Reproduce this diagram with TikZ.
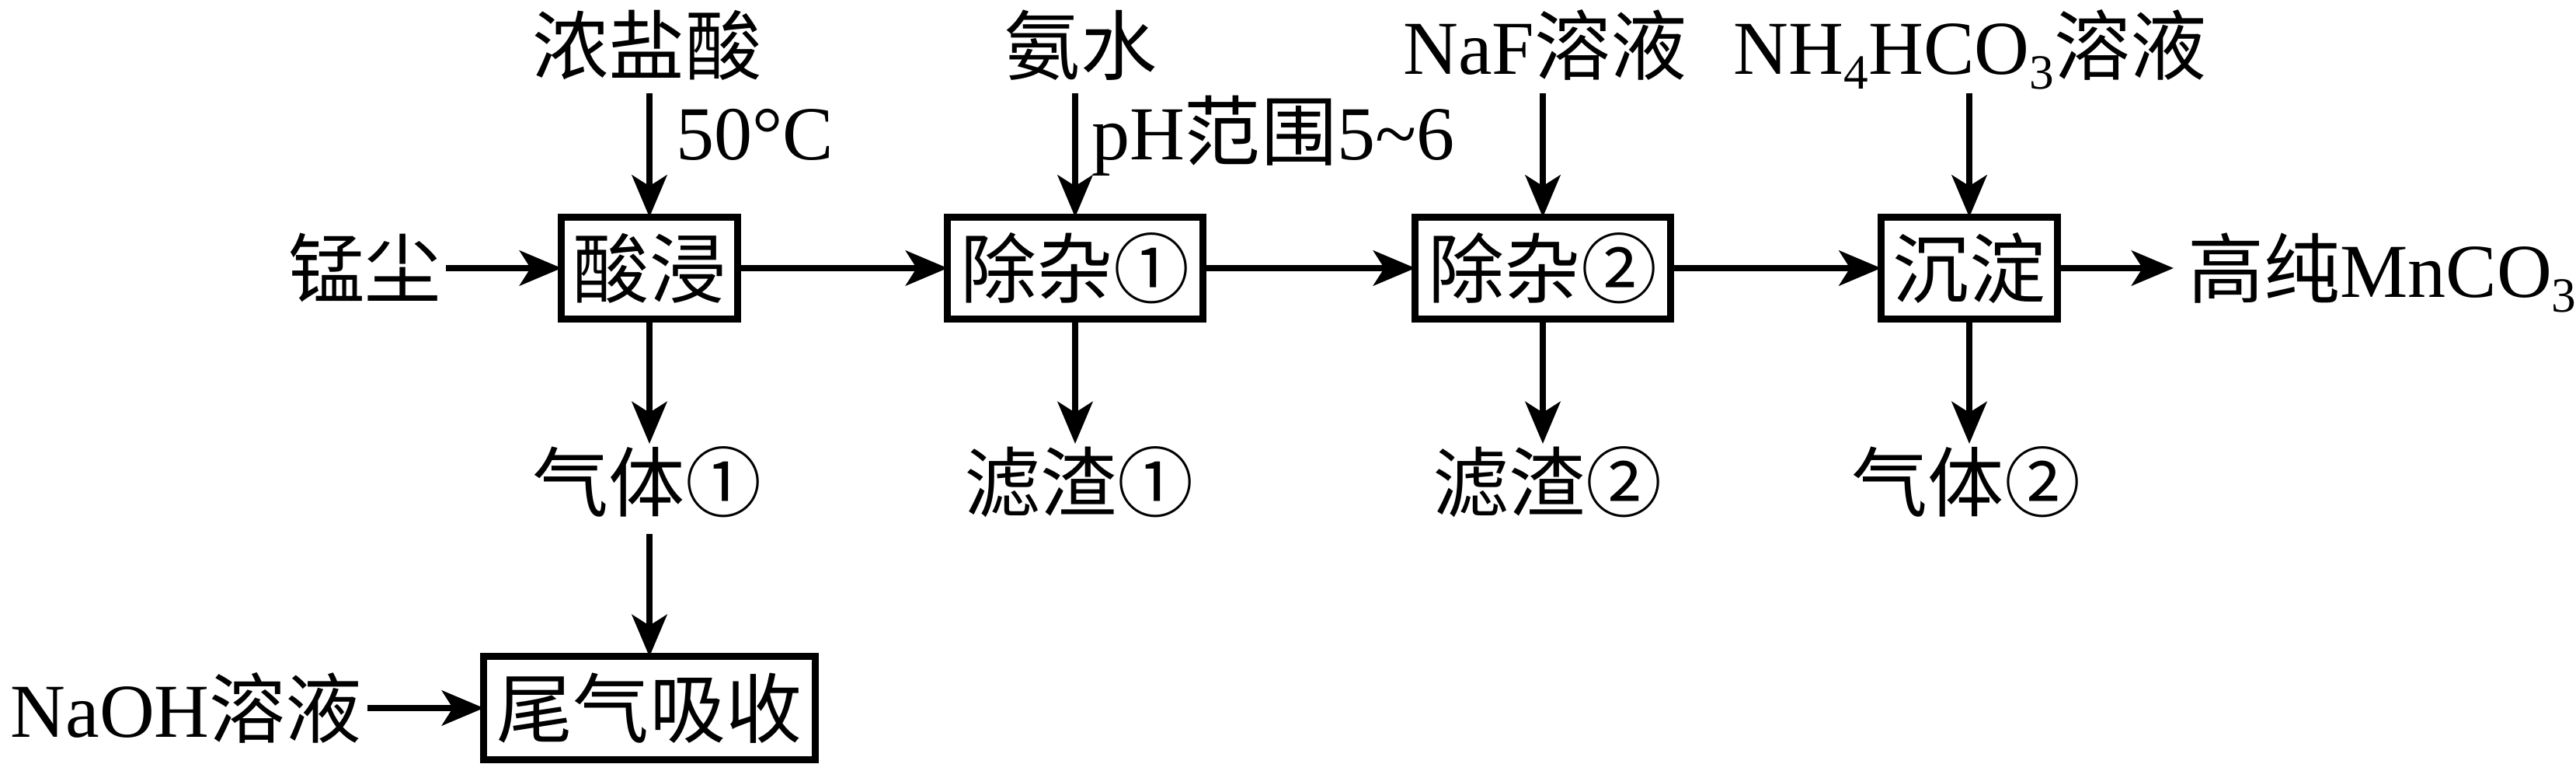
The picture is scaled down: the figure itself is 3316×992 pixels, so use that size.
\documentclass[tikz,border=0pt]{standalone}
\usepackage{fontspec}
\setmainfont{Liberation Serif}
\newfontfamily\cjk{Noto Sans CJK SC}
\usetikzlibrary{arrows.meta}
\newcommand{\sbs}[1]{\raisebox{-0.2em}{\fontsize{18pt}{20pt}\selectfont #1}}
\begin{document}
\begin{tikzpicture}[x=0.01cm,y=-0.01cm,
  every node/.style={inner sep=0pt, outer sep=0pt,
    font=\fontsize{27.9pt}{33pt}\selectfont,
    text height=0.862cm, text depth=0.118cm},
  proc/.style={draw, line width=0.09cm, minimum height=1.31cm},
  flow/.style={line width=0.08cm, -{Stealth[length=0.54cm,width=0.45cm,inset=0.14cm]}}]
\useasboundingbox (0,0) rectangle (3316,992);

% process boxes
\node[proc, minimum width=2.26cm] (A) at (836,345) {\cjk 酸浸};
\node[proc, minimum width=3.28cm] (B) at (1384,345) {\cjk 除杂①};
\node[proc, minimum width=3.28cm] (C) at (1986,345) {\cjk 除杂②};
\node[proc, minimum width=2.27cm] (D) at (2535,345) {\cjk 沉淀};
\node[proc, minimum width=4.26cm, minimum height=1.32cm] (E) at (836,911) {\cjk 尾气吸收};

% labels
\node (hcl) at (833,58) {\cjk 浓盐酸};
\node[anchor=west] (t50) at (870,168) {50°C};
\node (nh3) at (1391,58) {\cjk 氨水};
\node[anchor=west] (ph) at (1405,168) {pH{\cjk 范围}5\textasciitilde6};
\node (naf) at (1989,58) {NaF{\cjk 溶液}};
\node (nh4) at (2536,58) {NH\sbs{4}HCO\sbs{3}{\cjk 溶液}};
\node[anchor=east] (mn) at (568,345) {\cjk 锰尘};
\node[anchor=west] (prod) at (2816,345) {{\cjk 高纯}MnCO\sbs{3}};
\node (g1) at (833,620) {\cjk 气体①};
\node (r1) at (1389,620) {\cjk 滤渣①};
\node (r2) at (1992,620) {\cjk 滤渣②};
\node (g2) at (2531,620) {\cjk 气体②};
\node[anchor=east] (naoh) at (466,911) {NaOH{\cjk 溶液}};

% main flow
\draw[flow, shorten <=0.06cm] (mn.east) -- (A.west);
\draw[flow] (A.east) -- (B.west);
\draw[flow] (B.east) -- (C.west);
\draw[flow] (C.east) -- (D.west);
\draw[flow, shorten >=0.18cm] (D.east) -- (prod.west);

% reagents in
\draw[flow, shorten <=0.13cm] (A.north |- hcl.south) -- (A.north);
\draw[flow, shorten <=0.13cm] (B.north |- nh3.south) -- (B.north);
\draw[flow, shorten <=0.13cm] (C.north |- naf.south) -- (C.north);
\draw[flow, shorten <=0.13cm] (D.north |- nh4.south) -- (D.north);

% products out
\draw[flow] (A.south) -- (A.south |- g1.north);
\draw[flow] (B.south) -- (B.south |- r1.north);
\draw[flow] (C.south) -- (C.south |- r2.north);
\draw[flow] (D.south) -- (D.south |- g2.north);

% tail gas
\draw[flow, shorten <=0.18cm] (A.south |- g1.south) -- (E.north);
\draw[flow, shorten <=0.07cm] (naoh.east) -- (E.west);
\end{tikzpicture}
\end{document}
